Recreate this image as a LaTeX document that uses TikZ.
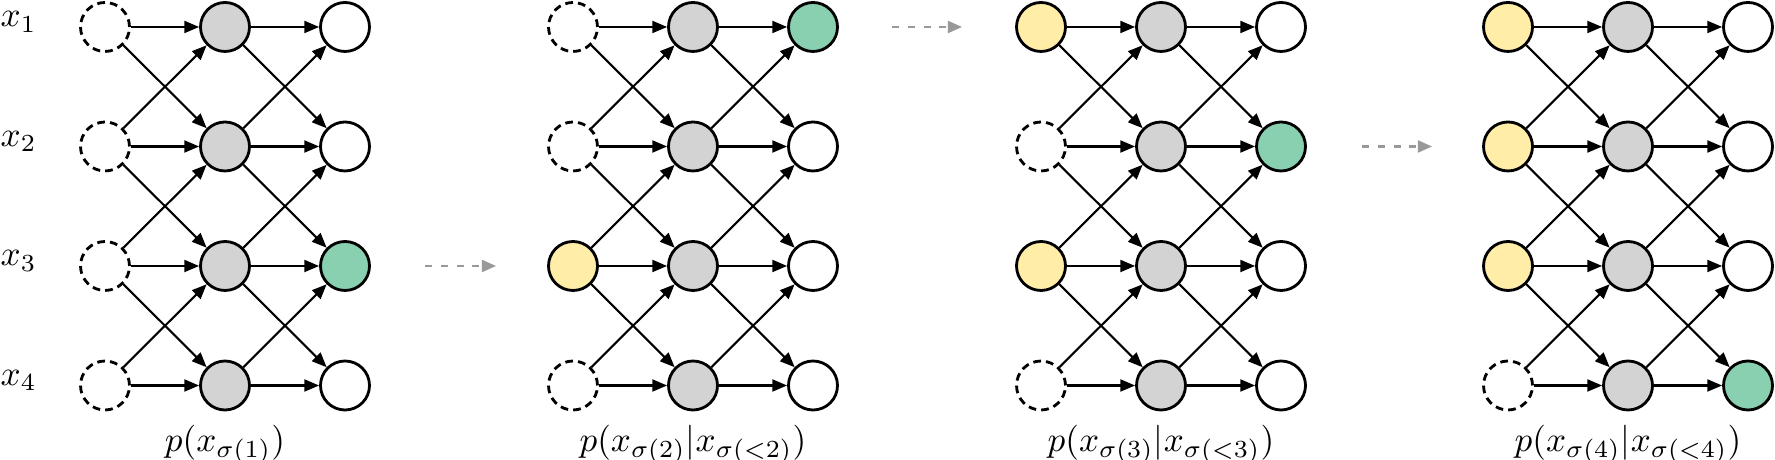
\documentclass[tikz,border=0pt]{standalone}
\usepackage{tikz}
\usetikzlibrary{arrows.meta}

\definecolor{hidgray}{RGB}{211,211,211}
\definecolor{obsyellow}{RGB}{255,237,168}
\definecolor{targetgreen}{RGB}{136,208,176}

\begin{document}
\begin{tikzpicture}[
  unit/.style={circle,draw,thick,minimum size=0.49cm,inner sep=0pt},
  latent/.style={unit,dash pattern=on 2.2pt off 1.45pt},
  given/.style={unit,fill=obsyellow},
  hidden/.style={unit,fill=hidgray},
  output/.style={unit,fill=white},
  target/.style={unit,fill=targetgreen},
  edge/.style={semithick,-{Triangle[length=4.2pt,width=3.4pt]}},
  nextstep/.style={semithick,draw=black!40,dash pattern=on 2pt off 2.5pt,
    -{Triangle[length=4pt,width=3.4pt,fill=black!40]}},
  rowlabel/.style={inner sep=0pt,anchor=base west}
]

\useasboundingbox (0,0) rectangle (17.75,4.6);

% names of the variables, one per row
\foreach \i in {1,...,4}
\node[rowlabel] (lab-\i) at (0,5.525-1.195*\i) {$x_\i$};

% the four steps: inputs, hidden units and outputs
\foreach \b/\x/\ins/\outs in {
  1/1.05/{latent,latent,latent,latent}/{output,output,target,output},
  2/5.73/{latent,latent,given,latent}/{target,output,output,output},
  3/10.41/{given,latent,given,latent}/{output,target,output,output},
  4/15.08/{given,given,given,latent}/{output,output,output,target}} {

\foreach \st [count=\i] in \ins
\node[\st] (in-\b-\i) at (\x,5.525-1.195*\i) {};

\foreach \i in {1,...,4}
\node[hidden] (hid-\b-\i) at (\x+1.2,5.525-1.195*\i) {};

\foreach \st [count=\i] in \outs
\node[\st] (out-\b-\i) at (\x+2.4,5.525-1.195*\i) {};

% straight connections
\foreach \i in {1,...,4} {
\draw[edge] (in-\b-\i) -- (hid-\b-\i);
\draw[edge] (hid-\b-\i) -- (out-\b-\i);
}

% crossing connections to the neighbouring rows
\foreach \i [evaluate=\i as \j using int(\i+1)] in {1,...,3} {
\draw[edge] (in-\b-\i) -- (hid-\b-\j);
\draw[edge] (in-\b-\j) -- (hid-\b-\i);
\draw[edge] (hid-\b-\i) -- (out-\b-\j);
\draw[edge] (hid-\b-\j) -- (out-\b-\i);
}
}

% conditionals under the steps
\node[inner sep=0pt,anchor=base] (cond-1) at (2.25,0.085) {$p(x_{\sigma(1)})$};
\node[inner sep=0pt,anchor=base] (cond-2) at (6.93,0.085) {$p(x_{\sigma(2)}|x_{\sigma(<2)})$};
\node[inner sep=0pt,anchor=base] (cond-3) at (11.61,0.085) {$p(x_{\sigma(3)}|x_{\sigma(<3)})$};
\node[inner sep=0pt,anchor=base] (cond-4) at (16.28,0.085) {$p(x_{\sigma(4)}|x_{\sigma(<4)})$};

% dashed arrows from one step to the next
\coordinate (go-1) at (4.25,1.94);
\coordinate (to-1) at (4.96,1.94);
\coordinate (go-2) at (8.92,4.33);
\coordinate (to-2) at (9.62,4.33);
\coordinate (go-3) at (13.62,3.135);
\coordinate (to-3) at (14.32,3.135);
\foreach \k in {1,2,3}
\draw[nextstep] (go-\k) -- (to-\k);

\end{tikzpicture}
\end{document}
